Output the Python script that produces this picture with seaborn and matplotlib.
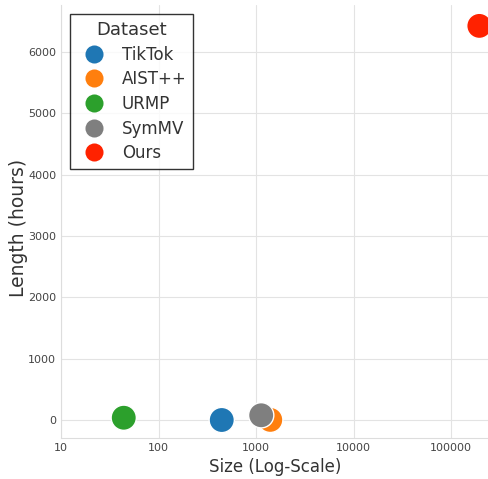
import numpy as np
import pandas as pd
from matplotlib import pyplot as plt
import matplotlib.ticker as mticker
import seaborn as sns

# dados
datasets = ["TikTok", "AIST++", "URMP", "SymMV", "Ours"]
sizes = [445, 1400, 44, 1130, 195000]
lengths = [3, 5, 40, 80, 6420]
colors = ["#1f77b4", "#ff7f0e", "#2ca02c", "#7f7f7f", "#ff2200"]

df = pd.DataFrame({"Dataset": datasets, "Size": sizes, "Length": lengths})

sns.set_style("whitegrid", {"grid.color": "#e3e3e3"})
plt.rcParams["font.family"] = ["DejaVu Sans"]

fig = plt.figure(figsize=(4.89, 4.79), dpi=100)
ax = fig.add_axes([61 / 489, 41 / 479, 428 / 489, 433 / 479])

sns.scatterplot(data=df, x="Size", y="Length", hue="Dataset",
                palette=colors, s=330, edgecolor="white", linewidth=1, ax=ax)

ax.set_xscale("log")
ax.set_xlim(10, 245000)
ax.set_ylim(-290, 6760)
ax.xaxis.set_major_formatter(mticker.FuncFormatter(lambda v, p: f"{v:.0f}"))
ax.xaxis.set_minor_locator(mticker.NullLocator())
ax.set_yticks([0, 1000, 2000, 3000, 4000, 5000, 6000])
ax.tick_params(labelsize=8, colors="#444444", length=0)
ax.set_xlabel("Size (Log-Scale)", fontsize=12, color="#333333")
ax.set_ylabel("Length (hours)", fontsize=13.5, color="#333333")
ax.yaxis.set_label_coords(-0.078, 0.485)
for sp in ["right", "top"]:
    ax.spines[sp].set_visible(False)
for sp in ["left", "bottom"]:
    ax.spines[sp].set_color("#dddddd")

leg = ax.legend(title="Dataset", loc="upper left", fontsize=12, title_fontsize=13,
                markerscale=1.0, frameon=True, fancybox=False,
                borderaxespad=0.55, handletextpad=0.7, labelspacing=0.4)
leg.get_frame().set_edgecolor("black")
leg.get_frame().set_linewidth(1.0)
for h in leg.legend_handles:
    h.set_markersize(13)
    h.set_markeredgecolor("none")
for t in leg.get_texts():
    t.set_color("#333333")
leg.get_title().set_color("#333333")

plt.savefig("out.png", dpi=100)
